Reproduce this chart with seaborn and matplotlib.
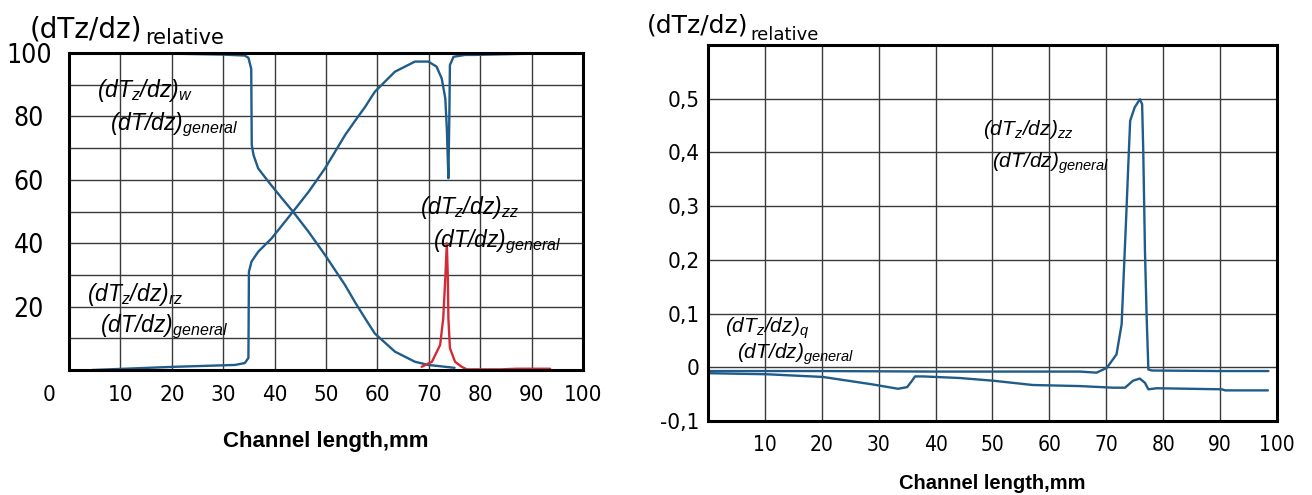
import numpy as np
import pandas as pd
import matplotlib
matplotlib.use("Agg")
import matplotlib.pyplot as plt
import matplotlib.transforms as mtransforms
import seaborn as sns

# --- left panel: relative gradients, % ---
w_x = [4.5, 10, 20, 30, 34.2, 34.9, 35.45, 35.55, 35.9, 36.8, 38.8, 41.4, 43.6, 46.6,
       49.8, 53.7, 55.6, 57.6, 59.5, 63.4, 67.3, 69.9, 75]
w_y = [100, 100, 99.8, 99.5, 99.2, 98.5, 95, 71, 67.8, 63.6, 59.4, 54.2, 49.9, 43.6,
       36.3, 26.8, 21.5, 16.3, 11.5, 5.8, 2.6, 1.6, 0.7]

rz_x = [4.5, 20.3, 32.3, 34.2, 34.9, 35.0, 35.5, 36.8, 39.4, 43.6, 46.6, 49.8, 53.7,
        55.6, 57.6, 59.5, 63.4, 67.3, 69.9, 71.5, 72.5, 73.2, 73.5, 73.8, 74.0, 74.1,
        74.8, 77, 79, 95]
rz_y = [0, 1, 1.6, 2.2, 3.8, 31, 34.2, 37.3, 41.5, 50, 56.2, 63.6, 74.1, 78.5, 83,
        87.8, 94.1, 97.3, 97.3, 95.7, 92, 85.7, 76.2, 60.5, 81.5, 96.2, 98.8, 99.4,
        99.4, 100]

zz_x = [68.6, 70.6, 72.2, 72.8, 73.2, 73.5, 73.7, 73.8, 74.1, 75.1, 76.4, 77.4, 83.9,
        87.1, 93.6]
zz_y = [1, 2.6, 7.9, 16.3, 28.9, 40, 28.9, 16.4, 6.9, 2.6, 1, 0.2, 0.2, 0.4, 0.4]

left_xticks = list(range(0, 101, 10))
left_xlabels = [str(v) for v in left_xticks]
left_yticks = list(range(0, 101, 10))
left_ylabels = ['', '', '20', '', '40', '', '60', '', '80', '', '100']

# --- right panel ---
zz2_x = [0, 20, 40, 60, 65.4, 68.3, 70.1, 71.8, 72.7, 73.0, 73.5, 73.9, 74.2, 75.0,
         75.9, 76.3, 76.5, 76.8, 77.1, 77.4, 78, 90, 98.5]
zz2_y = [-0.007, -0.007, -0.008, -0.008, -0.008, -0.01, -0.001, 0.024, 0.08, 0.155,
         0.279, 0.384, 0.459, 0.484, 0.499, 0.49, 0.403, 0.217, 0.093, -0.004,
         -0.006, -0.007, -0.007]

q_x = [0, 10.4, 20.2, 29, 33.4, 35, 35.8, 36.4, 37.8, 44.3, 50.1, 57.1, 65.4, 71.2,
       73.3, 74.7, 75.9, 76.8, 77.4, 78.9, 90.3, 90.9, 98.4]
q_y = [-0.011, -0.013, -0.018, -0.032, -0.04, -0.037, -0.026, -0.017, -0.017, -0.02,
       -0.025, -0.033, -0.035, -0.038, -0.038, -0.025, -0.021, -0.029, -0.041,
       -0.039, -0.041, -0.043, -0.043]

right_xticks = list(range(0, 101, 10))
right_xlabels = [''] + [str(v) for v in range(10, 101, 10)]
right_yticks = [-0.1, 0, 0.1, 0.2, 0.3, 0.4, 0.5, 0.6]
right_ylabels = ['-0,1', '0', '0,1', '0,2', '0,3', '0,4', '0,5', '']

BLUE = '#1f5c8a'
RED = '#d22b36'

sns.set_style("white")
plt.rcParams.update({
    'text.color': 'black',
    'xtick.color': 'black',
    'ytick.color': 'black',
    'axes.labelcolor': 'black',
    'mathtext.fontset': 'custom',
    'mathtext.rm': 'Liberation Sans:italic',
    'mathtext.it': 'Liberation Sans:italic',
    'mathtext.bf': 'Liberation Sans:italic:bold',
})

fig = plt.figure(figsize=(13.12, 4.95), dpi=100)
ax1 = fig.add_axes([0.0526, 0.2525, 0.3918, 0.6404])
ax2 = fig.add_axes([0.5396, 0.1495, 0.4337, 0.7596])

tick_font = dict(family='DejaVu Sans', stretch='condensed')
head_font = dict(family='DejaVu Sans')


def style_axes(ax):
    ax.grid(True, color='#3a3a3a', linewidth=1.0)
    ax.set_axisbelow(True)
    for s in ax.spines.values():
        s.set_visible(True)
        s.set_color('black')
        s.set_linewidth(2.2)
    ax.tick_params(length=0)


def frac(ax, xn, yn, xd, yd, sub, size):
    ax.text(xn, yn, r'$(dT_z/dz)_{%s}$' % sub, fontsize=size, ha='left', va='center')
    ax.text(xd, yd, r'$(dT/dz)_{general}$', fontsize=size, ha='left', va='center')


line_kw = dict(lw=1.7, sort=False, estimator=None, solid_joinstyle='round')

# left panel
sns.lineplot(x=w_x, y=w_y, ax=ax1, color=BLUE, **line_kw)
sns.lineplot(x=rz_x, y=rz_y, ax=ax1, color=BLUE, **line_kw)
sns.lineplot(x=zz_x, y=zz_y, ax=ax1, color=RED, **line_kw)
ax1.set_xlim(0, 100)
ax1.set_ylim(0, 100)
style_axes(ax1)
ax1.set_xticks(left_xticks)
ax1.set_xticklabels(left_xlabels, fontsize=16, **tick_font)
ax1.set_yticks(left_yticks)
ax1.set_yticklabels(left_ylabels, fontsize=19, **tick_font)
ax1.tick_params(axis='x', pad=11)
ax1.tick_params(axis='y', pad=29)
for lbl in ax1.get_yticklabels():
    lbl.set_ha('center')
zero_lbl = ax1.get_xticklabels()[0]
zero_lbl.set_transform(zero_lbl.get_transform() +
                       mtransforms.ScaledTranslation(-0.2, 0, fig.dpi_scale_trans))
ax1.set_xlabel('Channel length,mm', fontsize=16, fontweight='bold',
               family='Liberation Sans', va='center')
ax1.xaxis.set_label_coords(0.5, -0.227)
ax1.set_ylabel('')
ax1.text(-0.076, 1.05, '(dTz/dz)', transform=ax1.transAxes, fontsize=20,
         ha='left', va='baseline', **head_font)
ax1.text(0.148, 1.028, 'relative', transform=ax1.transAxes, fontsize=15,
         ha='left', va='baseline', **head_font)
frac(ax1, 5.4, 88.2, 8, 77.5, 'w', 16.5)
frac(ax1, 3.5, 23.8, 6, 13.5, 'rz', 16.5)
frac(ax1, 68.3, 51.3, 70.8, 40.5, 'zz', 16.5)

# right panel
sns.lineplot(x=zz2_x, y=zz2_y, ax=ax2, color=BLUE, **line_kw)
sns.lineplot(x=q_x, y=q_y, ax=ax2, color=BLUE, **line_kw)
ax2.set_xlim(0, 100)
ax2.set_ylim(-0.1, 0.6)
style_axes(ax2)
ax2.set_xticks(right_xticks)
ax2.set_xticklabels(right_xlabels, fontsize=15, **tick_font)
ax2.set_yticks(right_yticks)
ax2.set_yticklabels(right_ylabels, fontsize=16, **tick_font)
ax2.tick_params(axis='x', pad=10)
ax2.tick_params(axis='y', pad=6)
ax2.set_xlabel('Channel length,mm', fontsize=14.5, fontweight='bold',
               family='Liberation Sans', va='center')
ax2.xaxis.set_label_coords(0.5, -0.165)
ax2.set_ylabel('')
ax2.text(-0.107, 1.032, '(dTz/dz)', transform=ax2.transAxes, fontsize=18,
         ha='left', va='baseline', **head_font)
ax2.text(0.075, 1.013, 'relative', transform=ax2.transAxes, fontsize=13,
         ha='left', va='baseline', **head_font)
frac(ax2, 48.3, 0.442, 50, 0.379, 'zz', 15)
frac(ax2, 3, 0.073, 5.1, 0.024, 'q', 15)

fig.savefig('out.png', dpi=100)
